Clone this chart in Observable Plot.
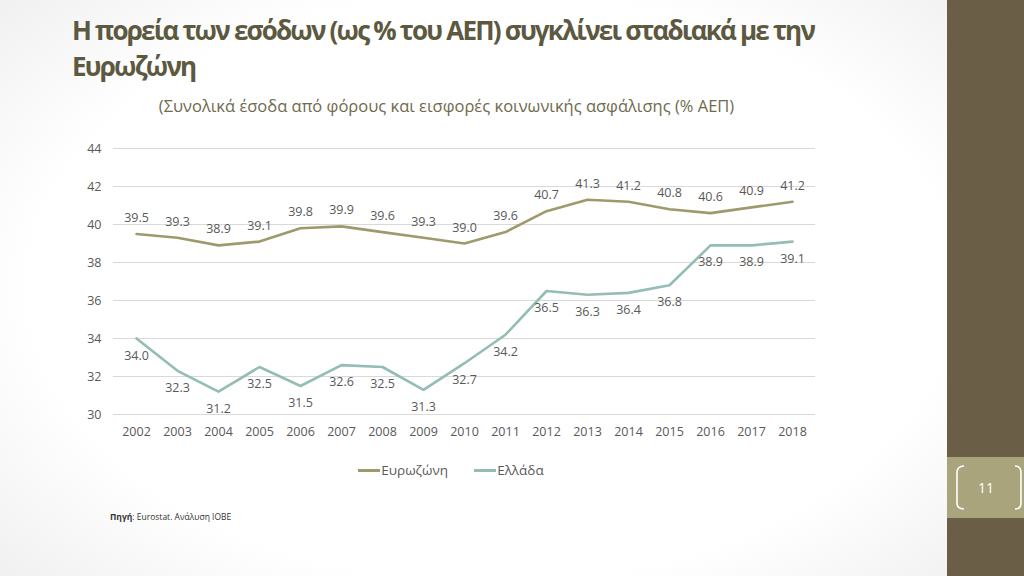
<!DOCTYPE html>
<html>
<head>
<meta charset="utf-8">
<script src="https://cdn.jsdelivr.net/npm/d3@7"></script>
<script src="https://cdn.jsdelivr.net/npm/@observablehq/plot@0.6"></script>
<style>
  html, body { margin: 0; padding: 0; }
  body {
    width: 1024px; height: 576px; position: relative; overflow: hidden;
    background: radial-gradient(ellipse 75% 85% at 48% 50%, #ffffff 60%, #e9e9e9 100%);
    font-family: "Open Sans", sans-serif;
  }
  #title {
    position: absolute; left: 72px; top: 12px; width: 860px;
    font-family: "Open Sans", sans-serif; font-weight: 700; font-size: 26px;
    letter-spacing: -1.8px; line-height: 36px; color: #5c5940;
  }
  #subtitle {
    position: absolute; left: 0; width: 893px; top: 94px; text-align: center;
    font-size: 16.5px; color: #6e6a4c; letter-spacing: 0px;
  }
  #chart { position: absolute; left: 60px; top: 135px; }
  #legend {
    position: absolute; top: 461px; left: 0; width: 902px; text-align: center;
    font-size: 13.5px; color: #595959;
  }
  #legend span.item { display: inline-block; margin: 0 13px; }
  #legend span.sw { display: inline-block; width: 22px; height: 3px; vertical-align: middle; margin-right: 1px; position: relative; top: -1px; }
  #source { position: absolute; left: 110px; top: 511px; font-size: 8.5px; color: #333; }
  #panel { position: absolute; left: 947px; top: 0; width: 77px; height: 576px; background: #6a5e47; }
  #band { position: absolute; left: 947px; top: 457px; width: 77px; height: 61px; background: #a9a47c; }
  #num { position: absolute; left: 947px; top: 457px; width: 77px; height: 61px; }
</style>
</head>
<body>
<div id="title">Η πορεία των εσόδων (ως % του ΑΕΠ) συγκλίνει σταδιακά με την<br>Ευρωζώνη</div>
<div id="subtitle">(Συνολικά έσοδα από φόρους και εισφορές κοινωνικής ασφάλισης (% ΑΕΠ)</div>
<div id="chart"></div>
<div id="legend"></div>
<div id="source"><b>Πηγή</b>: Eurostat. Ανάλυση ΙΟΒΕ</div>
<div id="panel"></div>
<div id="band"></div>
<svg id="num" width="77" height="61">
  <path d="M17 9 Q10 9 10 16 L10 46 Q10 52 17 52" fill="none" stroke="#ffffff" stroke-width="1.6"/>
  <path d="M68 9 Q74 9 74 16 L74 46 Q74 52 68 52" fill="none" stroke="#ffffff" stroke-width="1.6"/>
  <text x="39" y="36" text-anchor="middle" fill="#ffffff" font-family="Open Sans, sans-serif" font-size="14">11</text>
</svg>
<script>
const years = ["2002","2003","2004","2005","2006","2007","2008","2009","2010","2011","2012","2013","2014","2015","2016","2017","2018"];
const eurozone = [39.5,39.3,38.9,39.1,39.8,39.9,39.6,39.3,39.0,39.6,40.7,41.3,41.2,40.8,40.6,40.9,41.2];
const greece = [34.0,32.3,31.2,32.5,31.5,32.6,32.5,31.3,32.7,34.2,36.5,36.3,36.4,36.8,38.9,38.9,39.1];
const seriesNames = ["Ευρωζώνη","Ελλάδα"];
const seriesColors = ["#9e9a6c","#93bdb5"];
const yTicks = [30,32,34,36,38,40,42,44];

const ez = years.map((y,i)=>({year:y, value:eurozone[i], series:seriesNames[0]}));
const gr = years.map((y,i)=>({year:y, value:greece[i], series:seriesNames[1]}));
const fmt = d3.format(".1f");

const chart = Plot.plot({
  width: 760, height: 310,
  marginLeft: 53, marginRight: 5, marginTop: 13, marginBottom: 31,
  style: {fontFamily: "Open Sans, sans-serif", fontSize: "12.5px", color: "#595959", background: "transparent"},
  x: {type: "point", domain: years, padding: 0.5, label: null},
  y: {domain: [30,44], label: null},
  marks: [
    Plot.gridY(yTicks, {stroke: "#d9d9d9", strokeOpacity: 1, strokeWidth: 1}),
    Plot.axisY(yTicks, {tickSize: 0, tickPadding: 12, fill: "#595959", label: null}),
    Plot.axisX({tickSize: 0, tickPadding: 13, fill: "#595959", label: null}),
    Plot.line(ez, {x: "year", y: "value", stroke: seriesColors[0], strokeWidth: 2.6}),
    Plot.line(gr, {x: "year", y: "value", stroke: seriesColors[1], strokeWidth: 2.6}),
    Plot.text(ez, {x: "year", y: "value", text: d => fmt(d.value), dy: -16, fill: "#595959", fontSize: 12.5}),
    Plot.text(gr, {x: "year", y: "value", text: d => fmt(d.value), dy: 17, fill: "#595959", fontSize: 12.5})
  ]
});
document.getElementById("chart").appendChild(chart);

const legend = document.getElementById("legend");
seriesNames.forEach((n,i)=>{
  const it = document.createElement("span");
  it.className = "item";
  const sw = document.createElement("span");
  sw.className = "sw"; sw.style.background = seriesColors[i];
  it.appendChild(sw);
  it.appendChild(document.createTextNode(n));
  legend.appendChild(it);
});
</script>
</body>
</html>
